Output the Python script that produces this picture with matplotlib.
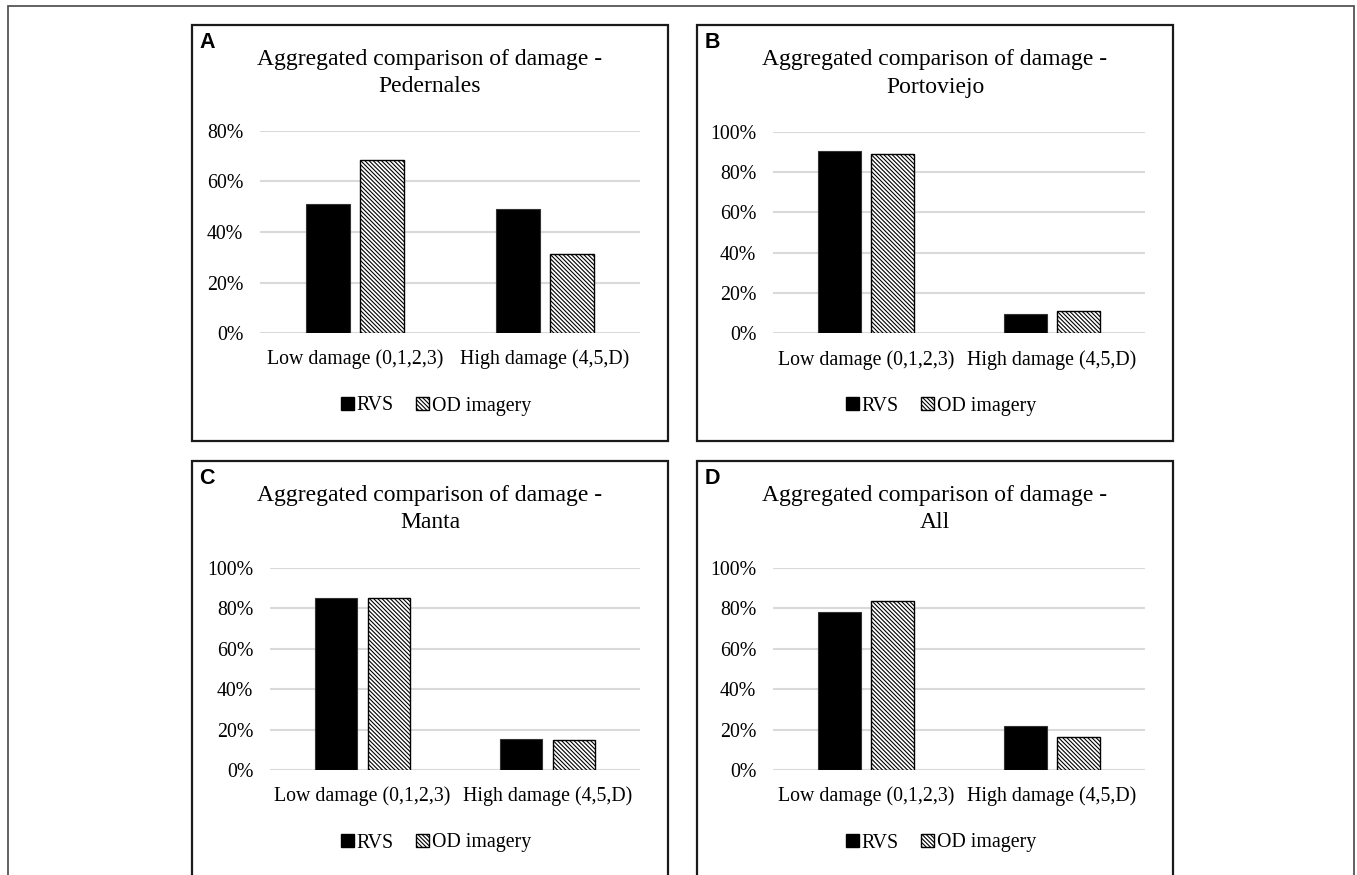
import matplotlib
matplotlib.use("Agg")
import matplotlib.pyplot as plt
from matplotlib.patches import Rectangle, Patch
from matplotlib.ticker import PercentFormatter

W, H = 1357, 875

categories = ["Low damage (0,1,2,3)", "High damage (4,5,D)"]
series_names = ["RVS", "OD imagery"]
panel_letters = ["A", "B", "C", "D"]
places = ["Pedernales", "Portoviejo", "Manta", "All"]

rvs_pedernales = [50.9, 49.1]
od_pedernales = [68.7, 31.3]
rvs_portoviejo = [90.3, 9.7]
od_portoviejo = [88.9, 11.1]
rvs_manta = [84.8, 15.2]
od_manta = [85.0, 15.0]
rvs_all = [78.3, 21.7]
od_all = [83.6, 16.4]

rvs_values = [rvs_pedernales, rvs_portoviejo, rvs_manta, rvs_all]
od_values = [od_pedernales, od_portoviejo, od_manta, od_all]
y_max = [80, 100, 100, 100]

plt.rcParams["font.family"] = ["Liberation Serif", "DejaVu Serif"]
plt.rcParams["hatch.linewidth"] = 0.8

HATCH = "\\" * 8

fig = plt.figure(figsize=(W / 100, H / 100), dpi=100)


def fx(x):
    return x / W


def fy(y):
    return 1 - y / H


# outer frame (runs off the bottom edge)
fig.patches.append(Rectangle((fx(8), fy(900)), fx(1354) - fx(8), fy(6) - fy(900),
                             transform=fig.transFigure, fill=False,
                             edgecolor="#555555", linewidth=1.3))

# panel boxes: left, top, right, bottom in pixels
panels = [(192, 25, 668, 441), (697, 25, 1173, 441),
          (192, 461, 668, 900), (697, 461, 1173, 900)]
# plot areas: left, right, y of 0, y of y_max
plot_areas = [(260, 640, 333, 131), (773, 1145, 333.3, 131.7),
              (270, 640, 770, 567.7), (773, 1145, 770, 567.7)]

width = 0.228
offset = 0.142

for i in range(4):
    l, t, r, b = panels[i]
    fig.patches.append(Rectangle((fx(l), fy(b)), fx(r) - fx(l), fy(t) - fy(b),
                                 transform=fig.transFigure, fill=False,
                                 edgecolor="#1a1a1a", linewidth=1.6))
    cx = (l + r) / 2

    fig.text(fx(l + 15), fy(t + 18), panel_letters[i], family="Liberation Sans",
             weight="bold", fontsize=15.5, ha="center", va="center")
    fig.text(fx(cx), fy(t + 35), "Aggregated comparison of damage -",
             fontsize=17, ha="center", va="center")
    fig.text(fx(cx), fy(t + 62), places[i], fontsize=17, ha="center", va="center")

    al, ar, y0, y1 = plot_areas[i]
    ax = fig.add_axes([fx(al), fy(y0), fx(ar) - fx(al), fy(y1) - fy(y0)])
    ax.bar([k - offset for k in range(2)], rvs_values[i], width,
           color="black", edgecolor="#333333", linewidth=0.8, zorder=3)
    ax.bar([k + offset for k in range(2)], od_values[i], width,
           color="white", edgecolor="black", hatch=HATCH, linewidth=1.0, zorder=3)

    ax.set_xlim(-0.5, 1.5)
    ax.set_ylim(0, y_max[i])
    ax.set_yticks(range(0, y_max[i] + 1, 20))
    ax.yaxis.set_major_formatter(PercentFormatter(decimals=0))
    ax.set_xticks([0, 1])
    ax.set_xticklabels(categories)
    ax.tick_params(axis="both", length=0, labelsize=14.3)
    ax.tick_params(axis="x", pad=12)
    ax.tick_params(axis="y", pad=12)
    ax.grid(axis="y", color="#d9d9d9", linewidth=1.5, zorder=0)
    for s in ax.spines.values():
        s.set_visible(False)

    handles = [Patch(facecolor="black", edgecolor="black"),
               Patch(facecolor="white", edgecolor="black", hatch=HATCH)]
    fig.legend(handles, series_names, loc="center",
               bbox_to_anchor=(fx(cx + 6), fy(y0 + 73)), ncol=2, frameon=False,
               fontsize=14.3, handlelength=0.65, handleheight=0.65,
               handletextpad=0.15, columnspacing=1.1, borderpad=0)

fig.savefig("out.png", dpi=100, facecolor="white")
